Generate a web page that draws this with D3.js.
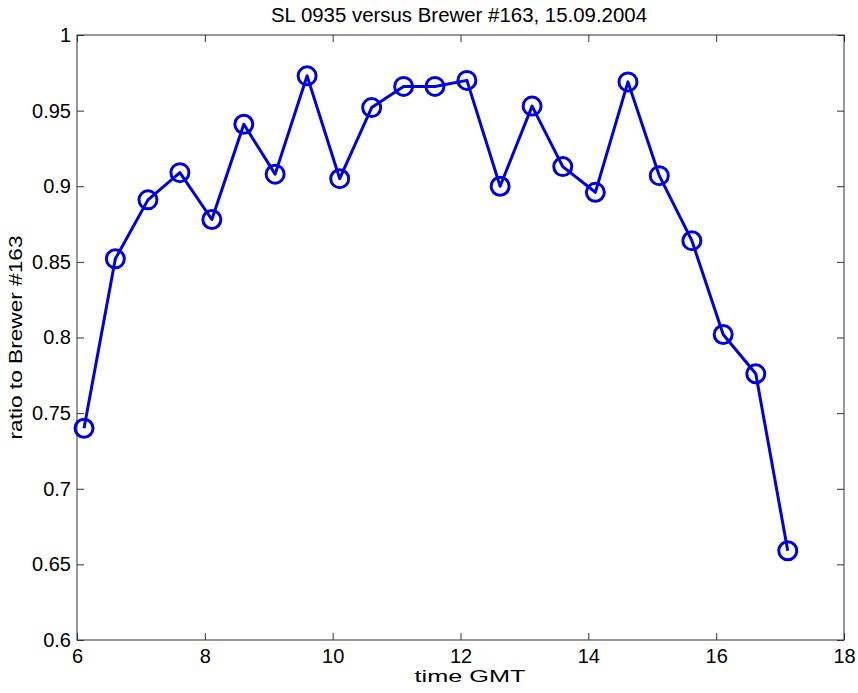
<!DOCTYPE html>
<html><head><meta charset="utf-8">
<script src="https://cdn.jsdelivr.net/npm/d3@7"></script>
<style>body{margin:0;background:#fff}svg{display:block}text{font-family:"Liberation Sans",Arial,sans-serif;fill:#000}</style>
</head><body>
<svg id="c" width="858" height="693"></svg>
<script>
const times = [6.11,6.60,7.11,7.61,8.11,8.61,9.10,9.60,10.11,10.61,11.11,11.60,12.10,12.62,13.12,13.60,14.11,14.62,15.11,15.62,16.11,16.62,17.12];
const ratios = [0.740,0.852,0.891,0.909,0.878,0.941,0.908,0.973,0.905,0.952,0.966,0.966,0.970,0.900,0.953,0.913,0.896,0.969,0.907,0.864,0.802,0.776,0.659];
const xTicks = [6,8,10,12,14,16,18];
const yTicks = [0.6,0.65,0.7,0.75,0.8,0.85,0.9,0.95,1];
const yTickLabels = ["0.6","0.65","0.7","0.75","0.8","0.85","0.9","0.95","1"];
const titleText = "SL 0935 versus Brewer #163, 15.09.2004";
const xLabel = "time GMT";
const yLabel = "ratio to Brewer #163";

const svg = d3.select("#c");
const L=77, R=844, T=35, B=640;
const x = d3.scaleLinear().domain([6,18]).range([L,R]);
const y = d3.scaleLinear().domain([0.6,1]).range([B,T]);
const axisColor = "#333";
const tickLen = 7;

svg.append("rect").attr("x",L).attr("y",T).attr("width",R-L).attr("height",B-T)
  .attr("fill","none").attr("stroke",axisColor).attr("stroke-width",1);

const xb = svg.append("g").attr("transform",`translate(0,${B})`)
  .call(d3.axisBottom(x).tickValues(xTicks).tickSize(-tickLen).tickPadding(9).tickFormat(d3.format("d")));
const xt = svg.append("g").attr("transform",`translate(0,${T})`)
  .call(d3.axisTop(x).tickValues(xTicks).tickSize(-tickLen).tickFormat(""));
const yl = svg.append("g").attr("transform",`translate(${L},0)`)
  .call(d3.axisLeft(y).tickValues(yTicks).tickSize(-tickLen).tickPadding(6).tickFormat((d,i)=>yTickLabels[i]));
const yr = svg.append("g").attr("transform",`translate(${R},0)`)
  .call(d3.axisRight(y).tickValues(yTicks).tickSize(-tickLen).tickFormat(""));
[xb,xt,yl,yr].forEach(g=>{
  g.select(".domain").remove();
  g.selectAll(".tick line").attr("stroke",axisColor);
  g.selectAll(".tick text").attr("font-size",20).attr("font-family","Liberation Sans, Arial, sans-serif").attr("fill","#000");
});

const color = "#0000e0";
const pts = times.map((t,i)=>[t,ratios[i]]);
svg.append("path").datum(pts)
  .attr("fill","none").attr("stroke",color).attr("stroke-width",3).attr("stroke-linejoin","round")
  .attr("d",d3.line().x(d=>x(d[0])).y(d=>y(d[1])));
svg.append("g").selectAll("circle").data(pts).join("circle")
  .attr("cx",d=>x(d[0])).attr("cy",d=>y(d[1])).attr("r",9)
  .attr("fill","none").attr("stroke",color).attr("stroke-width",3);

svg.append("text").attr("x",459).attr("y",22).attr("text-anchor","middle")
  .attr("font-size",19.5).attr("textLength",376).attr("lengthAdjust","spacingAndGlyphs").text(titleText);
svg.append("text").attr("x",470).attr("y",682).attr("text-anchor","middle")
  .attr("font-size",16.5).attr("textLength",111).attr("lengthAdjust","spacingAndGlyphs").text(xLabel);
svg.append("text").attr("transform","translate(22,337.5) rotate(-90)").attr("text-anchor","middle")
  .attr("font-size",19).attr("textLength",204).attr("lengthAdjust","spacingAndGlyphs").text(yLabel);
</script>
</body></html>
